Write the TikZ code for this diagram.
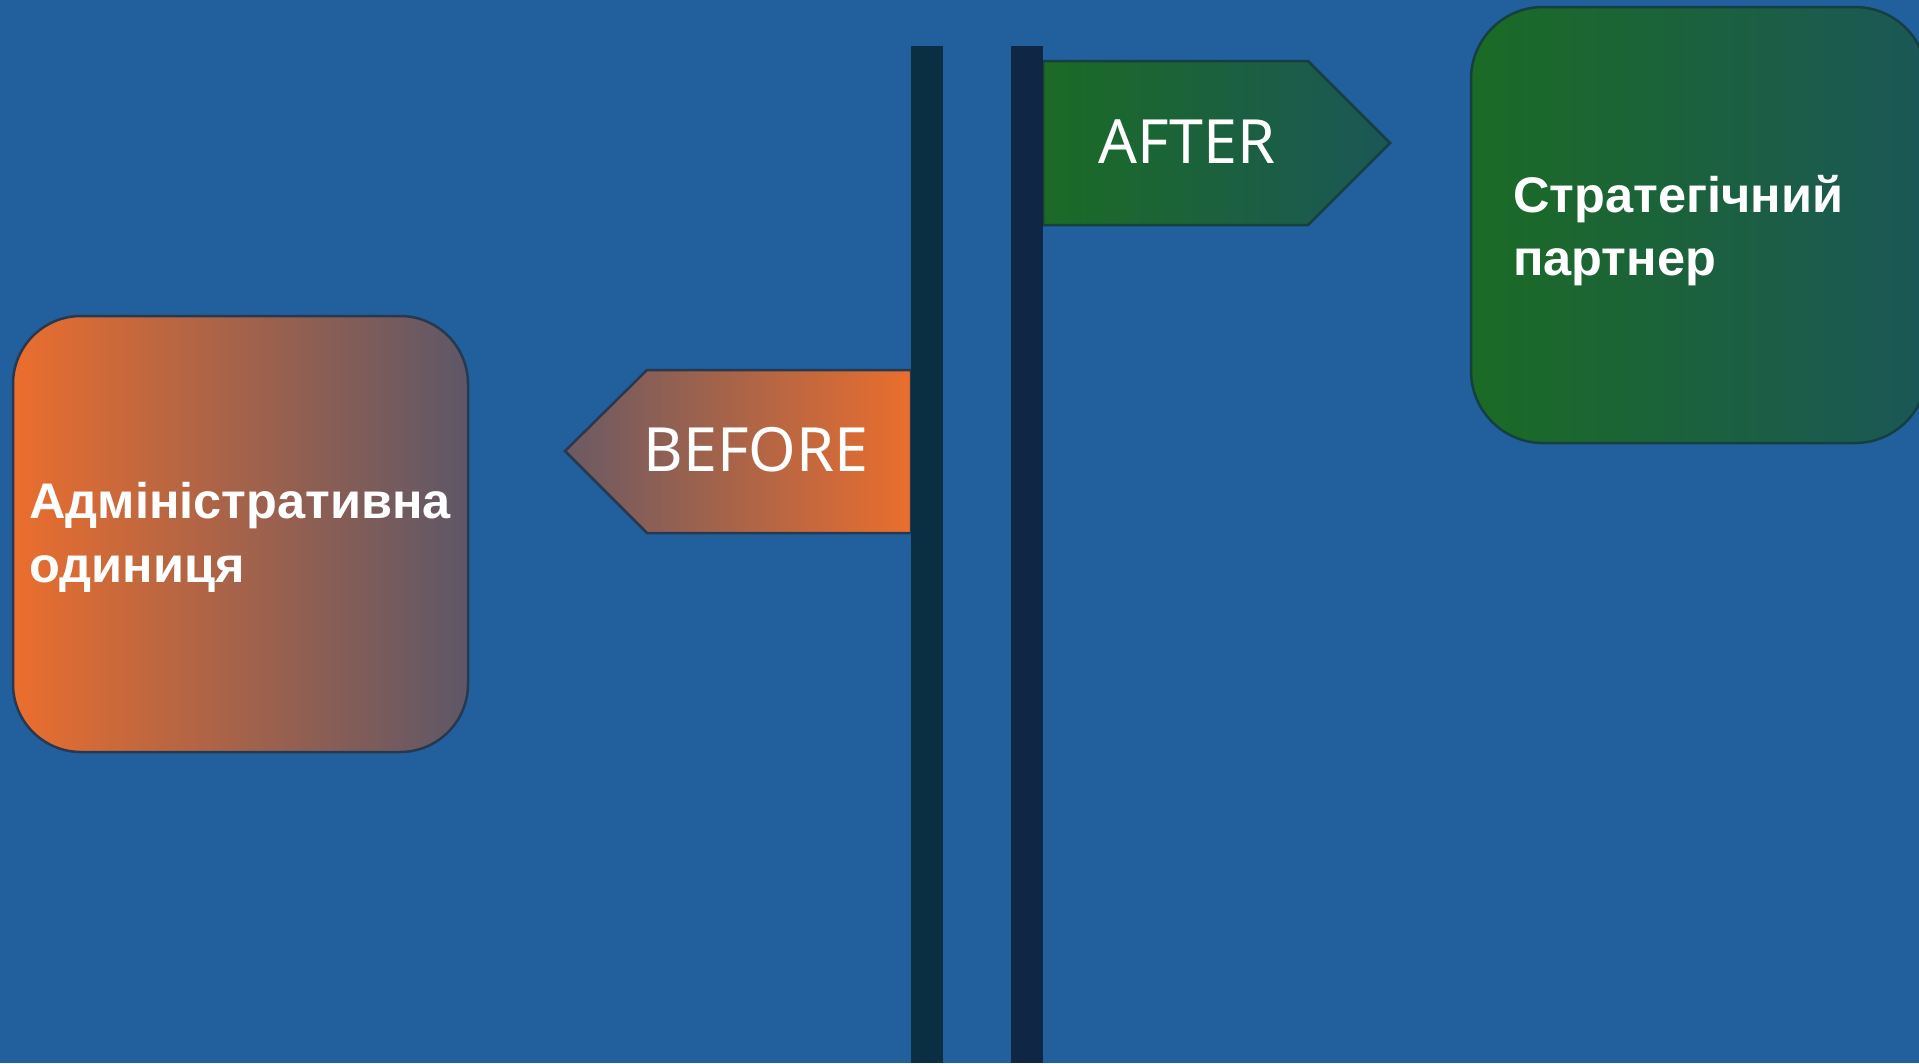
\documentclass[tikz,border=0pt]{standalone}
\usepackage{fontspec}
\setmainfont{Noto Sans}
\newfontfamily\boxfont{Liberation Sans}[FakeStretch=1.01]
\definecolor{bgblue}{HTML}{21609C}
\definecolor{poleA}{HTML}{0B2F42}
\definecolor{poleB}{HTML}{0F2744}
\definecolor{orangeC}{HTML}{EB6E2D}
\definecolor{greyC}{HTML}{5D5767}
\definecolor{greyB}{HTML}{6A5A63}
\definecolor{greenL}{HTML}{1B6B25}
\definecolor{greenR}{HTML}{1B5757}
\definecolor{edgeO}{HTML}{27384F}
\definecolor{edgeG}{HTML}{163F42}
\tikzset{
  signtext/.style={text=white, font=\fontsize{61}{70}\selectfont, inner sep=0pt},
  boxtext/.style={text=white, font=\boxfont\fontsize{50}{58}\bfseries\selectfont, inner sep=0pt, anchor=base west},
}
\begin{document}
\begin{tikzpicture}[x=1pt,y=-1pt]
\fill[bgblue] (0,0) rectangle (1919,1063);
\useasboundingbox (0,0) rectangle (1919,1063);
\clip (0,0) rectangle (1919,1063);
% left box
\shade[left color=orangeC, right color=greyC, rounded corners=68pt] (13,316) rectangle (468,752);
\draw[edgeO, line width=2.5pt, rounded corners=68pt] (13,316) rectangle (468,752);
\node[boxtext] (adm1) at (29,518) {Адміністративна};
\node[boxtext] (adm2) at (29,582) {одиниця};
% right box
\shade[left color=greenL, right color=greenR, rounded corners=72pt] (1471,7) rectangle (1927,443);
\draw[edgeG, line width=2.5pt, rounded corners=72pt] (1471,7) rectangle (1927,443);
\node[boxtext] (str1) at (1513,212) {Стратегічний};
\node[boxtext] (str2) at (1513,275) {партнер};
% BEFORE sign
\shade[left color=greyB, right color=orangeC] (911,370) -- (647,370) -- (565,451) -- (647,533) -- (911,533) -- cycle;
\draw[edgeO, line width=2.5pt, line join=miter] (911,370) -- (647,370) -- (565,451) -- (647,533) -- (911,533) -- cycle;
\node[signtext] (before) at (756,450) {BEFORE};
% AFTER sign
\shade[left color=greenL, right color=greenR] (1043,61) -- (1308,61) -- (1390,143) -- (1308,225) -- (1043,225) -- cycle;
\draw[edgeG, line width=2.5pt, line join=miter] (1043,61) -- (1308,61) -- (1390,143) -- (1308,225) -- (1043,225) -- cycle;
\node[signtext] (after) at (1187,142) {AFTER};
% poles
\fill[poleA] (911,46) rectangle (943,1063);
\fill[poleB] (1011,46) rectangle (1043,1063);
\end{tikzpicture}
\end{document}
